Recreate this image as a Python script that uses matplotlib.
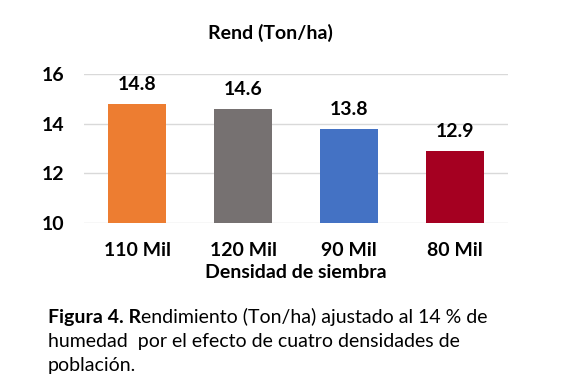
import matplotlib
matplotlib.use("Agg")
import matplotlib.pyplot as plt

categories = ["110 Mil", "120 Mil", "90 Mil", "80 Mil"]
values = [14.8, 14.6, 13.8, 12.9]
colors = ["#ED7D31", "#767171", "#4472C4", "#A50021"]
yticks = [10, 12, 14, 16]

plt.rcParams['font.family'] = ['Lato', 'DejaVu Sans']
FS = 14

fig = plt.figure(figsize=(5.7, 3.87), dpi=100)
ax = fig.add_axes([84/570, 1-223/387, 424/570, 149/387])
x = range(len(categories))
ax.bar(x, values, width=0.55, color=colors, zorder=3)
ax.set_ylim(10, 16)
ax.set_xlim(-0.5, 3.5)
ax.set_yticks(yticks)
ax.set_yticklabels([str(t) for t in yticks], fontsize=FS, fontweight='bold')
ax.set_xticks(list(x))
ax.set_xticklabels(categories, fontsize=FS, fontweight='bold')
ax.tick_params(axis='x', length=0, pad=14)
ax.tick_params(axis='y', length=0, pad=14)
for s in ax.spines.values():
    s.set_visible(False)
ax.grid(axis='y', color='#d9d9d9', linewidth=1, zorder=0)
for xi, v in zip(x, values):
    ax.annotate(f"{v}", (xi, v), xytext=(0, 8), textcoords='offset points',
                ha='center', va='bottom', fontsize=FS, fontweight='bold')
fig.text(296/570, 1-273/387, "Densidad de siembra", ha='center', va='center', fontsize=FS, fontweight='bold')
fig.text(270/570, 1-33/387, "Rend (Ton/ha)", ha='center', va='center', fontsize=FS, fontweight='bold')

CS = 14
y0 = 1-317/387
tb = fig.text(48/570, y0, "Figura 4. R", ha='left', va='center', fontsize=CS, fontweight='bold')
fig.canvas.draw()
bb = tb.get_window_extent()
fig.text(bb.x1/570, y0, "endimiento (Ton/ha) ajustado al 14 % de", ha='left', va='center', fontsize=CS)
fig.text(48/570, 1-342/387, "humedad  por el efecto de cuatro densidades de", ha='left', va='center', fontsize=CS)
fig.text(48/570, 1-366/387, "población.", ha='left', va='center', fontsize=CS)

fig.savefig("out.png", dpi=100)
